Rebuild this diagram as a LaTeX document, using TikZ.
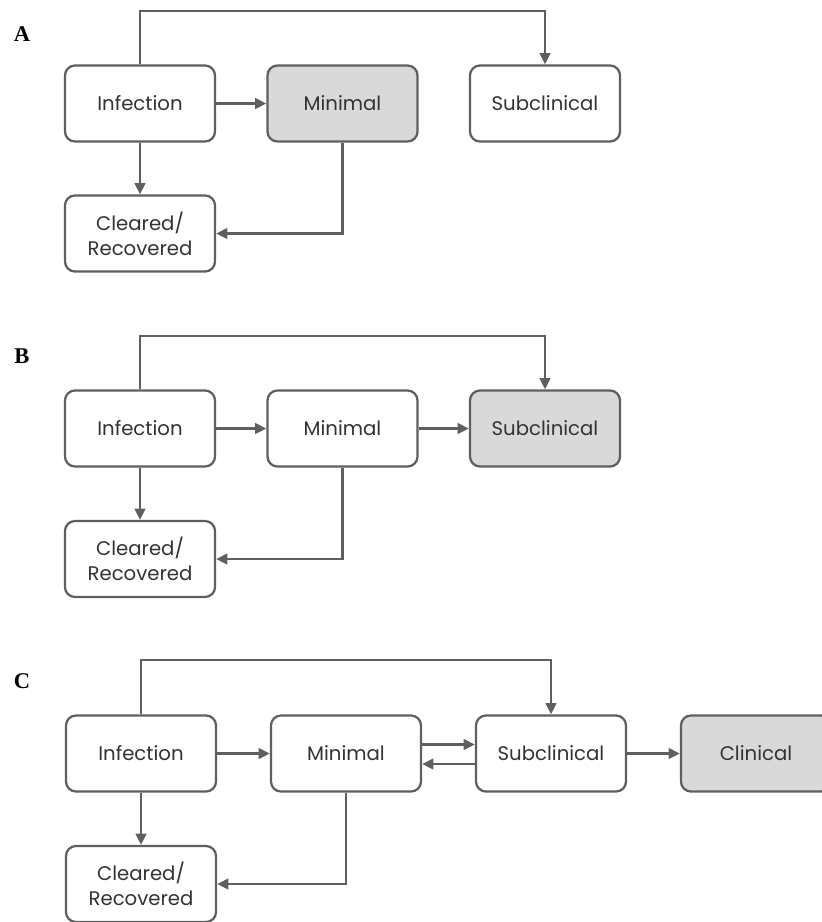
\documentclass[tikz,border=0pt]{standalone}
\usepackage{fontspec}
\setmainfont{Poppins}
\newfontfamily\panelfont{Liberation Serif}
\usetikzlibrary{calc,arrows.meta,positioning}
\definecolor{linegrey}{HTML}{5F5F5F}
\definecolor{boxgrey}{HTML}{D9D9D9}
\definecolor{textgrey}{HTML}{333333}
\tikzset{flow/.style={draw=linegrey,line width=1.6pt,-{Triangle[length=8pt,width=7.5pt]}},
panellabel/.style={font=\panelfont\bfseries\fontsize{16}{18}\selectfont,text=black,inner sep=0pt}}

\begin{document}
\begin{tikzpicture}[x=0.025cm,y=-0.025cm]

\tikzset{statenode/.style={draw=linegrey,line width=1.6pt,rounded corners=0.25cm,fill=white,text=textgrey,minimum width=3.75cm,minimum height=1.9cm,align=center,inner sep=2pt,font=\fontsize{14}{18}\selectfont},
greystate/.style={statenode,fill=boxgrey}}

\clip (0,0) rectangle (822,922);

%% Panel A
\node[panellabel] (labA) at (22,34) {A};
\node[statenode] (aInf) at (140,103.5) {Infection};
\node[greystate] (aMin) at (342.5,103.5) {Minimal};
\node[statenode] (aSub) at (545,103.5) {Subclinical};
\node[statenode] (aClr) at (140,233.5) {Cleared/\\Recovered};
\coordinate (aTop) at (0,11);

\draw[flow] (aInf) -- (aMin);
\draw[flow] (aInf) -- (aClr);
\draw[flow] (aMin.south) |- (aClr.east);
\draw[flow] (aInf.north) -- (aInf.north |- aTop) -| (aSub.north);

%% Panel B
\node[panellabel] (labB) at (22,356) {B};
\node[statenode] (bInf) at (140,428.5) {Infection};
\node[statenode] (bMin) at (342.5,428.5) {Minimal};
\node[greystate] (bSub) at (545,428.5) {Subclinical};
\node[statenode] (bClr) at (140,559) {Cleared/\\Recovered};
\coordinate (bTop) at (0,336);

\draw[flow] (bInf) -- (bMin);
\draw[flow] (bMin) -- (bSub);
\draw[flow] (bInf) -- (bClr);
\draw[flow] (bMin.south) |- (bClr.east);
\draw[flow] (bInf.north) -- (bInf.north |- bTop) -| (bSub.north);

%% Panel C
\node[panellabel] (labC) at (22,681) {C};
\node[statenode] (cInf) at (141,753.5) {Infection};
\node[statenode] (cMin) at (346,753.5) {Minimal};
\node[statenode] (cSub) at (551,753.5) {Subclinical};
\node[greystate] (cCli) at (756,753.5) {Clinical};
\node[statenode] (cClr) at (141,884) {Cleared/\\Recovered};
\coordinate (cTop) at (0,660);
\coordinate (cUp) at ($(cMin.east)+(0,-9)$);
\coordinate (cDown) at ($(cSub.west)+(0,10.5)$);

\draw[flow] (cInf) -- (cMin);
\draw[flow] (cUp) -- (cSub.west |- cUp);
\draw[flow] (cDown) -- (cMin.east |- cDown);
\draw[flow] (cSub) -- (cCli);
\draw[flow] (cInf) -- (cClr);
\draw[flow] (cMin.south) |- (cClr.east);
\draw[flow] (cInf.north) -- (cInf.north |- cTop) -| (cSub.north);

\end{tikzpicture}
\end{document}
